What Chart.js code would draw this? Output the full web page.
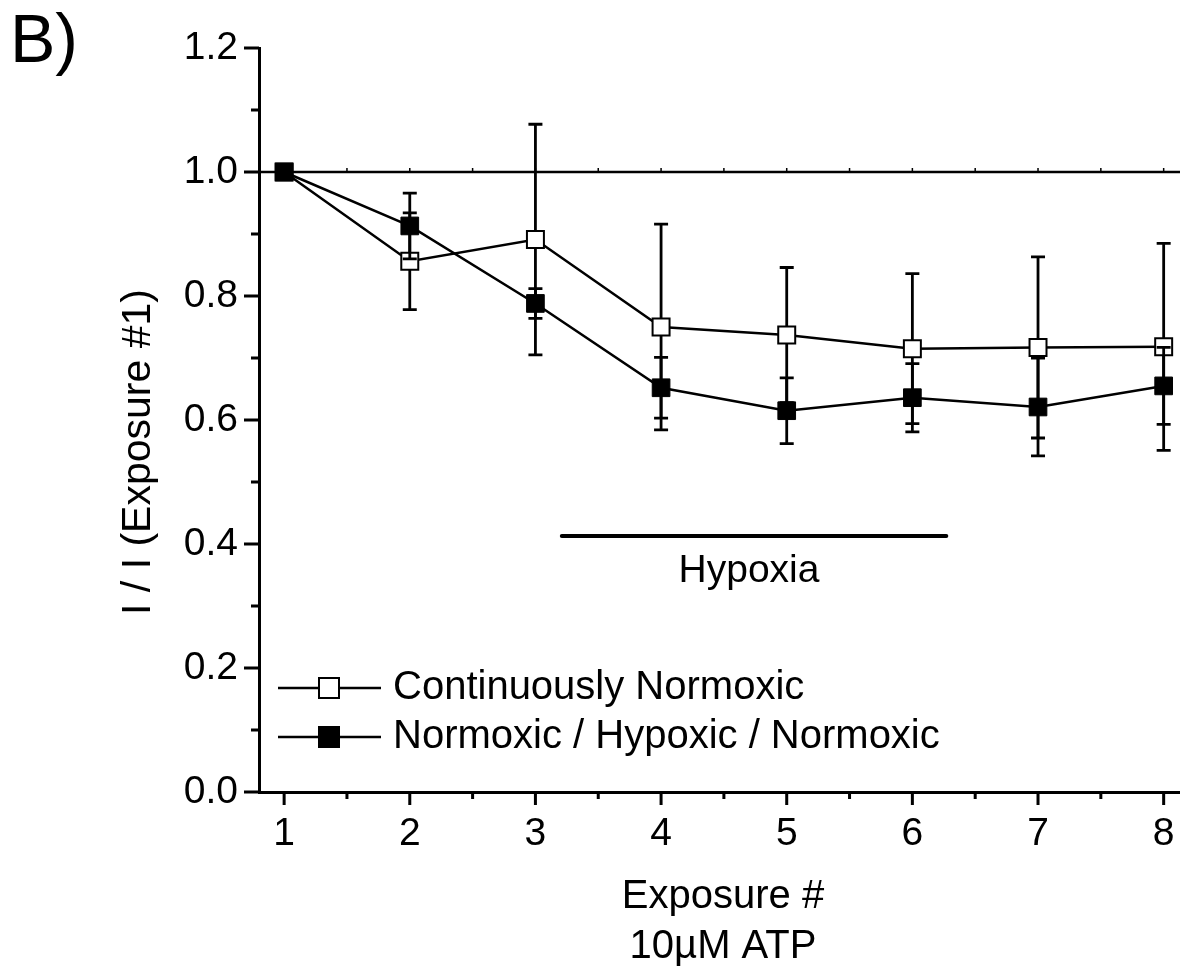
<!DOCTYPE html>
<html>
<head>
<meta charset="utf-8">
<title>I / I (Exposure #1) by exposure</title>
<script src="https://cdn.jsdelivr.net/npm/chart.js@4.4.1/dist/chart.umd.min.js"></script>
<style>
  html, body { margin: 0; padding: 0; background: #fff; }
  #wrap { width: 1180px; height: 968px; }
</style>
</head>
<body>
<div id="wrap"><canvas id="exposureChart" width="1180" height="968"></canvas></div>
<script>
// Exposure numbers and axis ticks
const exposures = [1, 2, 3, 4, 5, 6, 7, 8];
const xMajorTicks = [1, 2, 3, 4, 5, 6, 7, 8];
const xMinorTicks = [1.5, 2.5, 3.5, 4.5, 5.5, 6.5, 7.5];
const yMajorTicks = [0, 0.2, 0.4, 0.6, 0.8, 1.0, 1.2];
const yMinorTicks = [0.1, 0.3, 0.5, 0.7, 0.9, 1.1];
const refLineTicks = [1.5, 2, 2.5, 3, 3.5, 4, 4.5, 5, 5.5, 6, 6.5, 7, 7.5, 8];

// Continuously Normoxic (open squares)
const normoxicMean = [1.0, 0.856, 0.891, 0.750, 0.737, 0.715, 0.717, 0.718];
const normoxicErr = [0, 0.078, 0.186, 0.166, 0.109, 0.121, 0.146, 0.167];

// Normoxic / Hypoxic / Normoxic (filled squares)
const hypoxicMean = [1.0, 0.913, 0.788, 0.652, 0.615, 0.636, 0.621, 0.655];
const hypoxicErr = [0, 0.053, 0.024, 0.049, 0.053, 0.055, 0.079, 0.062];

// Reference level and hypoxia period
const referenceLevel = 1.0;
const hypoxiaSpan = [3.21, 6.27];
const hypoxiaLevel = 0.413;
const hypoxiaLabelX = 4.70;

const FONT = "'Liberation Sans', Arial, Helvetica, sans-serif";
Chart.defaults.font.family = FONT;
Chart.defaults.color = '#000';

function toPoints(xs, ys) {
    return xs.map((x, i) => ({ x: x, y: ys[i] }));
}

// Error bars are drawn just before each dataset so its markers sit on top
const errorBarPlugin = {
    id: 'errorBars',
    beforeDatasetDraw(chart, args) {
        const ds = chart.data.datasets[args.index];
        if (!ds.errors) return;
        const { ctx, scales: { x, y } } = chart;
        ctx.save();
        ctx.strokeStyle = '#000';
        ctx.lineWidth = 2.8;
        ds.data.forEach((p, i) => {
            const e = ds.errors[i];
            if (!e) return;
            const px = x.getPixelForValue(p.x);
            const top = y.getPixelForValue(p.y + e);
            const bot = y.getPixelForValue(p.y - e);
            ctx.beginPath();
            ctx.moveTo(px, top); ctx.lineTo(px, bot);
            ctx.moveTo(px - 7, top); ctx.lineTo(px + 7, top);
            ctx.moveTo(px - 7, bot); ctx.lineTo(px + 7, bot);
            ctx.stroke();
        });
        ctx.restore();
    }
};

// Horizontal line at 1.0 with its small tick marks
const referenceLinePlugin = {
    id: 'referenceLine',
    beforeDatasetsDraw(chart) {
        const { ctx, chartArea, scales: { x, y } } = chart;
        const py = y.getPixelForValue(referenceLevel);
        ctx.save();
        ctx.strokeStyle = '#000';
        ctx.lineWidth = 2.5;
        ctx.beginPath();
        ctx.moveTo(chartArea.left, py);
        ctx.lineTo(chart.width, py);
        ctx.stroke();
        ctx.lineWidth = 1.5;
        ctx.beginPath();
        refLineTicks.forEach(v => {
            const px = x.getPixelForValue(v);
            ctx.moveTo(px, py);
            ctx.lineTo(px, py - 4);
        });
        ctx.stroke();
        ctx.restore();
    }
};

// Outward major/minor tick marks on both axes
const axisTicksPlugin = {
    id: 'axisTicks',
    afterDraw(chart) {
        const { ctx, chartArea, scales: { x, y } } = chart;
        ctx.save();
        ctx.strokeStyle = '#000';
        ctx.lineWidth = 3;
        ctx.beginPath();
        xMajorTicks.forEach(v => {
            const px = x.getPixelForValue(v);
            ctx.moveTo(px, chartArea.bottom);
            ctx.lineTo(px, chartArea.bottom + 13);
        });
        xMinorTicks.forEach(v => {
            const px = x.getPixelForValue(v);
            ctx.moveTo(px, chartArea.bottom);
            ctx.lineTo(px, chartArea.bottom + 7);
        });
        yMajorTicks.forEach(v => {
            const py = y.getPixelForValue(v);
            ctx.moveTo(chartArea.left, py);
            ctx.lineTo(chartArea.left - 15, py);
        });
        yMinorTicks.forEach(v => {
            const py = y.getPixelForValue(v);
            ctx.moveTo(chartArea.left, py);
            ctx.lineTo(chartArea.left - 8, py);
        });
        // x axis runs a little past the y axis
        ctx.moveTo(chartArea.left - 12, chartArea.bottom);
        ctx.lineTo(chartArea.left, chartArea.bottom);
        ctx.stroke();
        ctx.restore();
    }
};

// Panel letter, axis titles, hypoxia bar and the legend
const annotationsPlugin = {
    id: 'annotations',
    afterDraw(chart) {
        const { ctx, scales: { x, y } } = chart;
        ctx.save();
        ctx.fillStyle = '#000';
        ctx.strokeStyle = '#000';

        ctx.font = '68px ' + FONT;
        ctx.textAlign = 'left';
        ctx.textBaseline = 'alphabetic';
        ctx.fillText('B)', 10, 62);

        // y title
        ctx.save();
        ctx.translate(139, 452);
        ctx.rotate(-Math.PI / 2);
        ctx.font = '41px ' + FONT;
        ctx.textAlign = 'center';
        ctx.textBaseline = 'middle';
        ctx.fillText('I / I (Exposure #1)', 0, 0);
        ctx.restore();

        // x title
        ctx.font = '40px ' + FONT;
        ctx.textAlign = 'center';
        ctx.textBaseline = 'middle';
        ctx.fillText('Exposure #', 723, 897);
        ctx.fillText('10\u00b5M ATP', 723, 947);

        // hypoxia period
        const hy = y.getPixelForValue(hypoxiaLevel);
        ctx.lineWidth = 4;
        ctx.lineCap = 'round';
        ctx.beginPath();
        ctx.moveTo(x.getPixelForValue(hypoxiaSpan[0]), hy);
        ctx.lineTo(x.getPixelForValue(hypoxiaSpan[1]), hy);
        ctx.stroke();
        ctx.font = '39px ' + FONT;
        ctx.fillText('Hypoxia', x.getPixelForValue(hypoxiaLabelX), hy + 35);

        // legend
        const rows = [
            { ds: chart.data.datasets[1], cy: 688 },
            { ds: chart.data.datasets[0], cy: 737 }
        ];
        ctx.lineCap = 'butt';
        ctx.textAlign = 'left';
        ctx.font = '40px ' + FONT;
        rows.forEach(r => {
            ctx.lineWidth = 2.5;
            ctx.beginPath();
            ctx.moveTo(278, r.cy);
            ctx.lineTo(381, r.cy);
            ctx.stroke();
            ctx.fillStyle = r.ds.pointBackgroundColor;
            ctx.fillRect(319, r.cy - 10, 20, 20);
            ctx.lineWidth = 2;
            ctx.strokeRect(319, r.cy - 10, 20, 20);
            ctx.fillStyle = '#000';
            ctx.fillText(r.ds.label, 393, r.cy);
        });
        ctx.restore();
    }
};

new Chart(document.getElementById('exposureChart'), {
    type: 'line',
    data: {
        datasets: [
            {
                label: 'Normoxic / Hypoxic / Normoxic',
                data: toPoints(exposures, hypoxicMean),
                errors: hypoxicErr,
                order: 0,
                borderColor: '#000',
                borderWidth: 2.5,
                pointStyle: 'rect',
                pointRadius: 12.5,
                pointBackgroundColor: '#000',
                pointBorderColor: '#000',
                pointBorderWidth: 1,
                tension: 0,
                fill: false
            },
            {
                label: 'Continuously Normoxic',
                data: toPoints(exposures, normoxicMean),
                errors: normoxicErr,
                order: 1,
                borderColor: '#000',
                borderWidth: 2.5,
                pointStyle: 'rect',
                pointRadius: 12,
                pointBackgroundColor: '#fff',
                pointBorderColor: '#000',
                pointBorderWidth: 2,
                tension: 0,
                fill: false
            }
        ]
    },
    options: {
        responsive: false,
        animation: false,
        devicePixelRatio: 1,
        // no automatic padding for point overflow, so the plot reaches the right edge
        layout: { autoPadding: false, padding: { left: 100, top: 48, right: 0, bottom: 0 } },
        plugins: {
            legend: { display: false },
            tooltip: { enabled: false }
        },
        scales: {
            x: {
                type: 'linear',
                min: 0.8,
                max: 8.13,
                afterBuildTicks: s => { s.ticks = xMajorTicks.map(v => ({ value: v })); },
                afterFit: s => { s.height = 176; },
                // tick marks are drawn by the plugin; the invisible tick length only spaces the labels
                grid: { display: false, drawTicks: true, tickLength: 19, tickColor: 'rgba(0,0,0,0)' },
                border: { display: true, color: '#000', width: 3 },
                ticks: {
                    padding: 0,
                    color: '#000',
                    font: { size: 39 },
                    maxRotation: 0,
                    autoSkip: false,
                    callback: v => String(v)
                }
            },
            y: {
                min: 0,
                max: 1.2,
                afterBuildTicks: s => { s.ticks = yMajorTicks.map(v => ({ value: v })); },
                afterFit: s => { s.width = 159; },
                grid: { display: false, drawTicks: true, tickLength: 21, tickColor: 'rgba(0,0,0,0)' },
                border: { display: true, color: '#000', width: 3 },
                ticks: {
                    padding: 0,
                    color: '#000',
                    font: { size: 39 },
                    callback: v => v.toFixed(1)
                }
            }
        }
    },
    plugins: [referenceLinePlugin, errorBarPlugin, axisTicksPlugin, annotationsPlugin]
});
</script>
</body>
</html>
